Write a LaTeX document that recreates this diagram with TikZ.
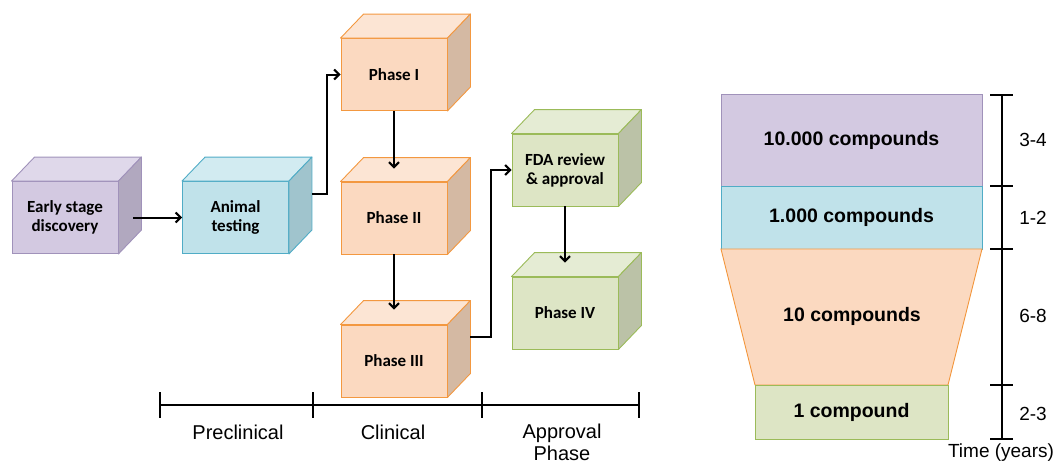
\documentclass[tikz,border=0pt]{standalone}
\usepackage{fontspec}
\setmainfont{Liberation Sans}
\newfontfamily\boxfont{Carlito}
\usetikzlibrary{arrows.meta}

% colours of the stages
\definecolor{purpfront}{RGB}{211,201,225}
\definecolor{purptop}{RGB}{223,216,234}
\definecolor{purpside}{RGB}{177,168,191}
\definecolor{purpline}{RGB}{160,146,186}
\definecolor{bluefront}{RGB}{192,226,234}
\definecolor{bluetop}{RGB}{210,235,241}
\definecolor{blueside}{RGB}{160,196,205}
\definecolor{blueline}{RGB}{80,172,198}
\definecolor{orngfront}{RGB}{251,217,192}
\definecolor{orngtop}{RGB}{252,229,212}
\definecolor{orngside}{RGB}{212,185,163}
\definecolor{orngline}{RGB}{243,152,64}
\definecolor{grenfront}{RGB}{221,229,197}
\definecolor{grentop}{RGB}{229,236,212}
\definecolor{grenside}{RGB}{187,194,167}
\definecolor{grenline}{RGB}{155,187,89}

\tikzset{
  stagebox/.style={draw=#1line, fill=#1front, line width=0.9pt,
    minimum width=106pt, minimum height=72pt, inner sep=2pt, align=center,
    font=\boxfont\bfseries\fontsize{17}{19}\selectfont},
  tier/.style={draw=#1line, fill=#1front, line width=0.9pt, inner sep=0pt,
    font=\bfseries\fontsize{19.5}{22}\selectfont},
  flow/.style={line width=2pt, -{Straight Barb[length=5pt,width=10pt]}},
  bar/.style={line width=2.4pt},
  barlabel/.style={font=\fontsize{20}{22}\selectfont, align=center},
  yearlabel/.style={font=\fontsize{19}{21}\selectfont},
}

% top and right face of a box
\newcommand\cubefaces[2]{%
  \draw[draw=#2line, fill=#2top, line width=0.9pt, line join=round]
    (#1.north west) -- ++(23,-24) -- ([shift={(23,-24)}]#1.north east)
    -- (#1.north east) -- cycle;
  \draw[draw=#2line, fill=#2side, line width=0.9pt, line join=round]
    (#1.north east) -- ++(23,-24) -- ([shift={(23,-24)}]#1.south east)
    -- (#1.south east) -- cycle;
}

\begin{document}
\begin{tikzpicture}[x=1pt, y=-1pt]
    \useasboundingbox (0,0) rectangle (1059,463);

    % stages
    \node[stagebox=purp] (early) at (65,217.5) {Early stage\\discovery};
    \cubefaces{early}{purp}
    \node[stagebox=blue] (animal) at (235.5,217.5) {Animal\\testing};
    \cubefaces{animal}{blue}
    \node[stagebox=orng] (phase1) at (394,74.5) {Phase I};
    \cubefaces{phase1}{orng}
    \node[stagebox=orng] (phase2) at (394,218) {Phase II};
    \cubefaces{phase2}{orng}
    \node[stagebox=orng] (phase3) at (394,361) {Phase III};
    \cubefaces{phase3}{orng}
    \node[stagebox=gren] (fda) at (565,170) {FDA review\\\& approval};
    \cubefaces{fda}{gren}
    \node[stagebox=gren] (phase4) at (565,313) {Phase IV};
    \cubefaces{phase4}{gren}

    % connectors
    \draw[flow] ([xshift=15pt]early.east) -- (animal.west);
    \draw[flow] ([xshift=23pt,yshift=24pt]animal.east) -- ++(15,0) |- (phase1.west);
    \draw[flow] (phase1.south) -- ([yshift=13pt]phase2.north);
    \draw[flow] (phase2.south) -- ([yshift=15pt]phase3.north);
    \draw[flow] ([xshift=23pt,yshift=24pt]phase3.east) -- ++(21,0) |- (fda.west);
    \draw[flow] (fda.south) -- ([yshift=14pt]phase4.north);

    % time line of the phases
    \draw[bar] (160,405) -- (639,405);
    \foreach \tx in {160,313,482,639}
        \draw[bar] (\tx,392) -- (\tx,418);
    \node[barlabel, anchor=base] (precl) at (238,439) {Preclinical};
    \node[barlabel, anchor=base] (clin) at (393,439) {Clinical};
    \node[barlabel, anchor=base] (appr) at (562,460) {Approval\\Phase};

    % funnel of compounds
    \node[tier=purp, minimum width=261pt, minimum height=92pt] (t1) at (851.5,140) {10.000 compounds};
    \node[tier=blue, minimum width=261pt, minimum height=63pt] (t2) at (851.5,217.5) {1.000 compounds};
    \draw[draw=orngline, fill=orngfront, line width=0.9pt] (721,249) -- (982,249) -- (948,385) -- (755,385) -- cycle;
    \node[font=\bfseries\fontsize{19.5}{22}\selectfont] (t3) at (852,316) {10 compounds};
    \node[tier=gren, minimum width=193pt, minimum height=54pt] (t4) at (851.5,412) {1 compound};

    % years
    \draw[bar] (1002,95) -- (1002,439);
    \foreach \ty in {95,186,249,385,439}
        \draw[bar] (990,\ty) -- (1013,\ty);
    \node[yearlabel] (y1) at (1033,140) {3-4};
    \node[yearlabel] (y2) at (1033,218) {1-2};
    \node[yearlabel] (y3) at (1033,316) {6-8};
    \node[yearlabel] (y4) at (1033,414) {2-3};
    \node[yearlabel, anchor=base] (ylab) at (1001,457) {Time (years)};
\end{tikzpicture}
\end{document}
